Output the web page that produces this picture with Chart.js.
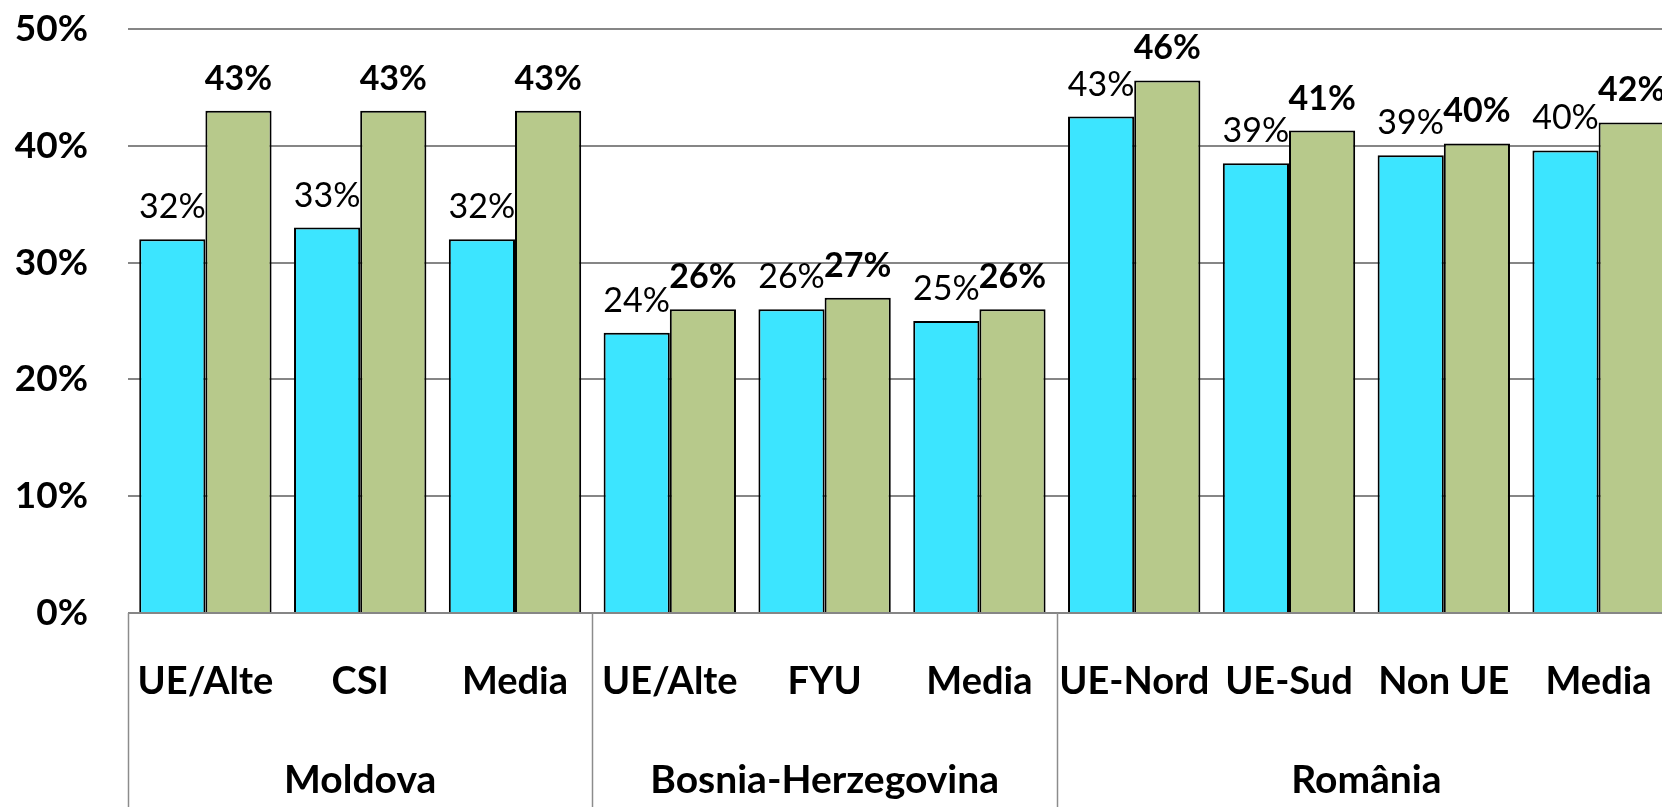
<!DOCTYPE html>
<html>
<head>
<meta charset="utf-8">
<script src="https://cdn.jsdelivr.net/npm/chart.js@4.4.1/dist/chart.umd.min.js"></script>
<style>
  html, body { margin: 0; padding: 0; background: #fff; overflow: hidden; }
  canvas { display: block; }
</style>
</head>
<body>
<canvas id="myChart" width="1676" height="807"></canvas>
<script>
const categories = ['UE/Alte', 'CSI', 'Media', 'UE/Alte', 'FYU', 'Media', 'UE-Nord', 'UE-Sud', 'Non UE', 'Media'];
const groups = ['Moldova', 'Bosnia-Herzegovina', 'România'];
const groupSizes = [3, 3, 4];
const seriesA = [32, 33, 32, 24, 26, 25, 42.5, 38.5, 39.2, 39.6];
const seriesB = [43, 43, 43, 26, 27, 26, 45.6, 41.3, 40.2, 42];
const yTicks = [0, 10, 20, 30, 40, 50];

const FONT = 'Lato';

// value labels above each bar (regular for first series, bold for second)
const barLabels = {
  id: 'barLabels',
  afterDatasetsDraw(chart) {
    const ctx = chart.ctx;
    ctx.save();
    ctx.fillStyle = '#000';
    ctx.textAlign = 'center';
    ctx.textBaseline = 'alphabetic';
    chart.data.datasets.forEach((ds, di) => {
      const meta = chart.getDatasetMeta(di);
      ctx.font = (di === 1 ? 'bold ' : '') + '34px ' + FONT;
      meta.data.forEach((bar, i) => {
        ctx.fillText(Math.round(ds.data[i]) + '%', bar.x, bar.y - 21);
      });
    });
    ctx.restore();
  }
};

// group labels + separators under the category axis
const groupAxis = {
  id: 'groupAxis',
  afterDraw(chart) {
    const x = chart.scales.x;
    const ctx = chart.ctx;
    const step = x.getPixelForValue(1) - x.getPixelForValue(0);
    const edge = i => x.getPixelForValue(i) - step / 2;
    ctx.save();
    ctx.strokeStyle = '#8c8c8c';
    ctx.lineWidth = 1.5;
    let start = 0;
    const bounds = [0];
    groupSizes.forEach(n => { start += n; bounds.push(start); });
    bounds.forEach(b => {
      const px = Math.round(edge(b)) + 0.5;
      ctx.beginPath();
      ctx.moveTo(px, x.top);
      ctx.lineTo(px, chart.height);
      ctx.stroke();
    });
    ctx.fillStyle = '#000';
    ctx.textAlign = 'center';
    ctx.textBaseline = 'alphabetic';
    ctx.font = 'bold 39px ' + FONT;
    groups.forEach((g, gi) => {
      const cx = (edge(bounds[gi]) + edge(bounds[gi + 1])) / 2;
      ctx.fillText(g, cx, 793);
    });
    ctx.restore();
  }
};

new Chart(document.getElementById('myChart'), {
  type: 'bar',
  data: {
    labels: categories,
    datasets: [
      {
        data: seriesA,
        backgroundColor: '#3ce5ff',
        borderColor: '#000',
        borderWidth: 2,
        categoryPercentage: 0.855,
        barPercentage: 1
      },
      {
        data: seriesB,
        backgroundColor: '#b7c98b',
        borderColor: '#000',
        borderWidth: 2,
        categoryPercentage: 0.855,
        barPercentage: 1
      }
    ]
  },
  options: {
    responsive: false,
    animation: false,
    layout: { padding: { top: 29, right: 0, bottom: 0, left: 0 } },
    plugins: { legend: { display: false }, tooltip: { enabled: false } },
    scales: {
      x: {
        offset: true,
        grid: { display: false, drawTicks: false },
        border: { display: false },
        ticks: {
          color: '#000',
          font: { family: FONT, weight: 'bold', size: 38 },
          padding: 46,
          maxRotation: 0,
          autoSkip: false
        },
        afterFit: s => { s.height = 194; s.paddingLeft = 0; s.paddingRight = 0; }
      },
      y: {
        min: 0,
        max: 50,
        afterBuildTicks: s => { s.ticks = yTicks.map(v => ({ value: v })); },
        grid: { color: '#868686', lineWidth: 2, drawTicks: false },
        border: { display: false },
        ticks: {
          color: '#000',
          font: { family: FONT, weight: 'bold', size: 37 },
          padding: 40,
          callback: v => v + '%'
        },
        afterFit: s => { s.width = 128; s.paddingTop = 0; s.paddingBottom = 0; }
      }
    }
  },
  plugins: [barLabels, groupAxis]
});
</script>
</body>
</html>
